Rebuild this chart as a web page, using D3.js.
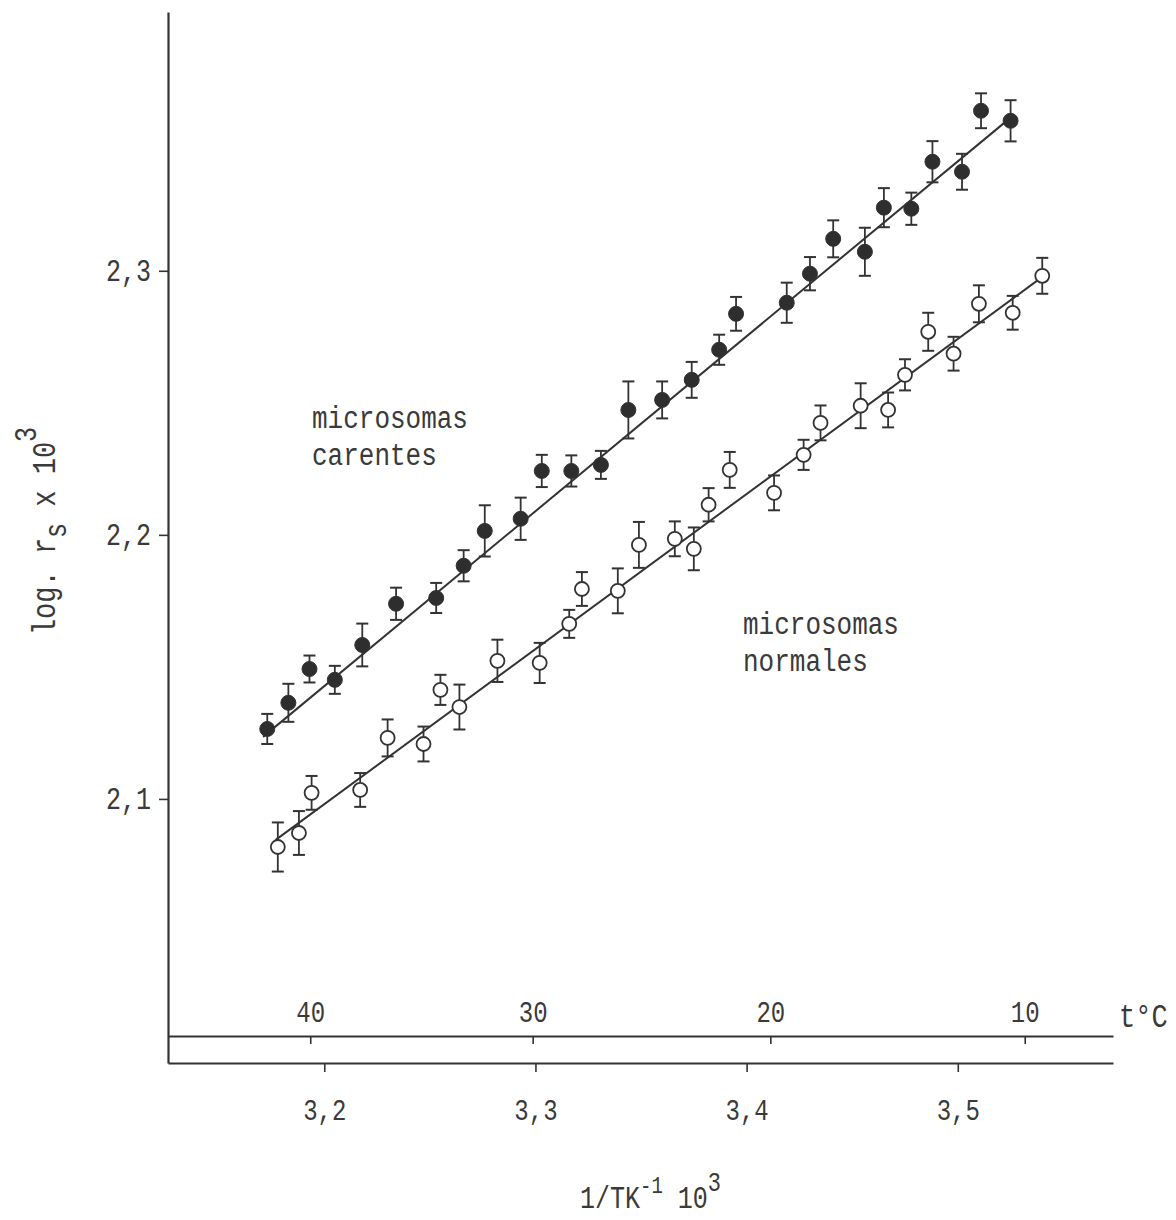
<!DOCTYPE html>
<html>
<head>
<meta charset="utf-8">
<script src="https://cdn.jsdelivr.net/npm/d3@7"></script>
<style>
  body { margin: 0; background: #fff; }
  svg text { font-family: "Liberation Mono", "DejaVu Sans Mono", monospace; fill: #3a3a3a; }
</style>
</head>
<body>
<svg id="chart" width="1176" height="1220"></svg>
<script>
// Microsomes lacking (carentes): 1/T x 10^3, log rs x 10^3 and its error
const carentesInvT = [3.173, 3.183, 3.193, 3.205, 3.218, 3.234, 3.253, 3.266, 3.276, 3.293,
                      3.303, 3.317, 3.331, 3.344, 3.360, 3.374, 3.387, 3.395, 3.419, 3.430,
                      3.441, 3.456, 3.465, 3.478, 3.488, 3.502, 3.511, 3.525];
const carentesLog  = [2.1265, 2.1364, 2.1492, 2.1451, 2.1583, 2.1739, 2.1761, 2.1883, 2.2015, 2.2061,
                      2.2242, 2.2242, 2.2265, 2.2473, 2.2511, 2.2587, 2.2701, 2.2837, 2.2879, 2.2989,
                      2.3121, 2.3072, 2.3239, 2.3235, 2.3413, 2.3375, 2.3606, 2.3568];
const carentesErr  = [0.0057, 0.0072, 0.0051, 0.0053, 0.0081, 0.0061, 0.0057, 0.0059, 0.0097, 0.0080,
                      0.0061, 0.0059, 0.0053, 0.0108, 0.0070, 0.0068, 0.0057, 0.0064, 0.0076, 0.0063,
                      0.0070, 0.0091, 0.0074, 0.0061, 0.0078, 0.0068, 0.0066, 0.0078];

// Normal microsomes
const normalesInvT = [3.178, 3.188, 3.194, 3.217, 3.230, 3.247, 3.255, 3.264, 3.282, 3.302,
                      3.316, 3.322, 3.339, 3.349, 3.366, 3.375, 3.382, 3.392, 3.413, 3.427,
                      3.435, 3.454, 3.467, 3.475, 3.486, 3.498, 3.510, 3.526, 3.540];
const normalesLog  = [2.0818, 2.0871, 2.1023, 2.1034, 2.1231, 2.1208, 2.1413, 2.1348, 2.1523, 2.1515,
                      2.1663, 2.1795, 2.1788, 2.1962, 2.1985, 2.1947, 2.2114, 2.2246, 2.2159, 2.2303,
                      2.2424, 2.2489, 2.2473, 2.2606, 2.2769, 2.2686, 2.2875, 2.2841, 2.2981];
const normalesErr  = [0.0093, 0.0083, 0.0064, 0.0064, 0.0070, 0.0066, 0.0057, 0.0085, 0.0080, 0.0076,
                      0.0053, 0.0064, 0.0085, 0.0087, 0.0066, 0.0081, 0.0063, 0.0068, 0.0066, 0.0057,
                      0.0066, 0.0085, 0.0066, 0.0059, 0.0072, 0.0064, 0.0070, 0.0064, 0.0068];

// Regression lines (end points)
const carentesFitInvT = [3.171, 3.525];
const carentesFitLog  = [2.1235, 2.3580];
const normalesFitInvT = [3.177, 3.540];
const normalesFitLog  = [2.0845, 2.2977];

// Axis ticks
const yTicks = [2.1, 2.2, 2.3];
const yTickLabels = ["2,1", "2,2", "2,3"];
const invTTicks = [3.2, 3.3, 3.4, 3.5];
const invTTickLabels = ["3,2", "3,3", "3,4", "3,5"];
const tempTicks = [40, 30, 20, 10];

const ink = "#333";
const svg = d3.select("#chart");

const x = d3.scaleLinear().domain([3.126, 3.5735]).range([168, 1113]);
const y = d3.scaleLinear().domain([2.0, 2.398]).range([1063, 12]);
const bottomY = 1063;   // 1/T axis
const tempY = 1036;     // temperature axis

// typewriter-like text: monospace stretched vertically
const SY = 1.25;

// ---- left axis ----
const gy = svg.append("g").attr("transform", `translate(${x.range()[0]},0)`)
  .call(d3.axisLeft(y).tickValues(yTicks).tickSize(9).tickSizeOuter(0)
        .tickFormat((d, i) => yTickLabels[i]));
gy.select(".domain").attr("stroke", ink).attr("stroke-width", 2.2);
gy.selectAll(".tick line").attr("stroke", ink).attr("stroke-width", 1.6);
gy.selectAll(".tick text")
  .attr("font-family", null).attr("font-size", 25)
  .attr("fill", "#3a3a3a")
  .attr("x", -17).attr("dy", null).attr("y", 10 / SY)
  .attr("transform", `scale(1,${SY})`);

// ---- bottom axis: 1/T ----
const gx = svg.append("g").attr("transform", `translate(0,${bottomY})`)
  .call(d3.axisBottom(x).tickValues(invTTicks).tickSize(9).tickSizeOuter(0)
        .tickFormat((d, i) => invTTickLabels[i]));
gx.select(".domain").attr("stroke", ink).attr("stroke-width", 2);
gx.selectAll(".tick line").attr("stroke", ink).attr("stroke-width", 1.6);
gx.selectAll(".tick text")
  .attr("font-family", null).attr("font-size", 24)
  .attr("fill", "#3a3a3a")
  .attr("dy", null).attr("y", 57 / SY)
  .attr("transform", `scale(1,${SY})`);

// ---- temperature axis (same 1/T scale, ticks at 1000/(t+273.15)) ----
const gt = svg.append("g").attr("transform", `translate(0,${tempY})`)
  .call(d3.axisBottom(x).tickValues(tempTicks.map(t => 1000 / (t + 273.15)))
        .tickSize(8).tickSizeOuter(0).tickFormat((d, i) => String(tempTicks[i])));
gt.select(".domain").attr("stroke", ink).attr("stroke-width", 2);
gt.selectAll(".tick line").attr("stroke", ink).attr("stroke-width", 1.6);
gt.selectAll(".tick text")
  .attr("font-family", null).attr("font-size", 24)
  .attr("fill", "#3a3a3a")
  .attr("dy", null).attr("y", -14 / SY)
  .attr("transform", `scale(1,${SY})`);

function label(xp, yp, fs, sy, parts, anchor = "start", rotate = 0) {
  const t = svg.append("text")
    .attr("transform", `translate(${xp},${yp}) rotate(${rotate}) scale(1,${sy})`)
    .attr("font-size", fs).attr("text-anchor", anchor);
  parts.forEach(p => {
    const ts = t.append("tspan").text(p.t);
    if (p.fs) ts.attr("font-size", p.fs);
    if (p.dy) ts.attr("dy", p.dy);
  });
  return t;
}

// axis titles
label(1119, 1027, 27, SY, [{ t: "t°C" }]);
label(580, 1208, 25, SY, [
  { t: "1/TK" }, { t: "-1", fs: 19, dy: -12 }, { t: " ", dy: 12 },
  { t: "10" }, { t: "3", fs: 22, dy: -14 }
]);

label(55, 531, 27, SY, [
  { t: "log. r" }, { t: "s", fs: 25, dy: 9 }, { t: " x 10", dy: -9 }, { t: "3", fs: 25, dy: -15 }
], "middle", -90);

// series annotations
label(312, 428, 26, 1.2, [{ t: "microsomas" }]);
label(312, 465, 26, 1.2, [{ t: "carentes" }]);
label(743, 634, 26, 1.2, [{ t: "microsomas" }]);
label(743, 671, 26, 1.2, [{ t: "normales" }]);

// ---- regression lines ----
function fitLine(xs, ys) {
  svg.append("line")
    .attr("x1", x(xs[0])).attr("y1", y(ys[0]))
    .attr("x2", x(xs[1])).attr("y2", y(ys[1]))
    .attr("stroke", ink).attr("stroke-width", 2);
}
fitLine(carentesFitInvT, carentesFitLog);
fitLine(normalesFitInvT, normalesFitLog);

// ---- points with error bars ----
function series(xs, ys, es, filled) {
  const data = xs.map((v, i) => ({ u: v, v: ys[i], e: es[i] }));
  const g = svg.append("g");
  const cap = 6;
  const bars = g.selectAll("g.bar").data(data).join("g").attr("class", "bar");
  bars.append("line")
    .attr("x1", d => x(d.u)).attr("x2", d => x(d.u))
    .attr("y1", d => y(d.v + d.e)).attr("y2", d => y(d.v - d.e))
    .attr("stroke", ink).attr("stroke-width", 1.8);
  bars.append("line")
    .attr("x1", d => x(d.u) - cap).attr("x2", d => x(d.u) + cap)
    .attr("y1", d => y(d.v + d.e)).attr("y2", d => y(d.v + d.e))
    .attr("stroke", ink).attr("stroke-width", 2);
  bars.append("line")
    .attr("x1", d => x(d.u) - cap).attr("x2", d => x(d.u) + cap)
    .attr("y1", d => y(d.v - d.e)).attr("y2", d => y(d.v - d.e))
    .attr("stroke", ink).attr("stroke-width", 2);
  g.selectAll("circle").data(data).join("circle")
    .attr("cx", d => x(d.u)).attr("cy", d => y(d.v))
    .attr("r", filled ? 7.5 : 7)
    .attr("fill", filled ? "#2e2e2e" : "#fff")
    .attr("stroke", ink).attr("stroke-width", filled ? 1 : 1.8);
}
series(carentesInvT, carentesLog, carentesErr, true);
series(normalesInvT, normalesLog, normalesErr, false);
</script>
</body>
</html>
